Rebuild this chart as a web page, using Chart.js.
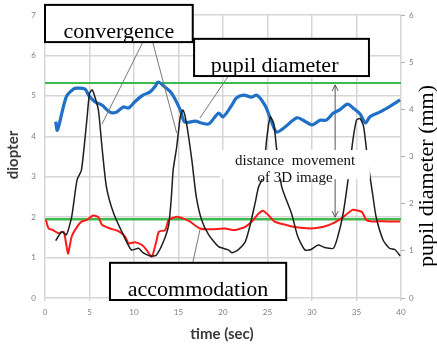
<!DOCTYPE html>
<html>
<head>
<meta charset="utf-8">
<script src="https://cdn.jsdelivr.net/npm/chart.js@4.4.0/dist/chart.umd.min.js"></script>
<style>
  html, body { margin: 0; padding: 0; background: #fff; }
  #wrap { width: 437px; height: 346px; position: relative; }
</style>
</head>
<body>
<div id="wrap"><canvas id="chart" width="437" height="346"></canvas></div>
<script>
// time axis (sec) and tick ranges
const timeRange = [0, 40];
const diopterRange = [0, 7];
const pupilRange = [0, 6];

// convergence (diopter)
const convT = [1.2, 1.9, 2.4, 3.0, 3.6, 4.1, 4.7, 5.0, 5.3, 5.6, 6.0, 6.4, 6.9, 7.7, 8.8, 9.7, 10.5, 11.0, 11.8, 12.5,
  13.3, 13.9, 14.2, 14.4, 14.8, 15.2, 15.5, 15.9, 16.5, 17.0, 17.6, 18.4, 19.5, 20.6, 21.0, 21.7, 22.5, 23.0, 23.6, 24.0,
  24.5, 24.9, 25.3, 25.7, 26.0, 26.6, 27.7, 28.4, 29.2, 29.9, 30.7, 31.4, 32.4, 32.9, 33.5, 34.0, 34.6, 35.0, 35.4, 35.8,
  36.3, 36.8, 37.2, 38.0, 38.7, 39.3, 39.9];
const convV = [1.42, 1.64, 1.56, 2.01, 2.92, 3.17, 4.40, 5.06, 5.15, 4.98, 4.65, 3.74, 2.75, 2.10, 1.56, 1.19, 1.23, 1.12, 1.04, 1.06,
  1.39, 1.81, 2.50, 3.17, 3.74, 4.48, 4.65, 4.32, 3.41, 2.50, 1.93, 1.56, 1.27, 1.19, 1.12, 1.19, 1.39, 1.76, 2.34, 2.75,
  3.00, 3.91, 4.48, 4.32, 3.74, 2.75, 2.09, 1.52, 1.19, 1.20, 1.31, 1.25, 1.23, 1.52, 2.09, 2.84, 3.91, 4.40, 4.44, 4.24,
  3.33, 2.59, 2.01, 1.43, 1.23, 1.20, 1.04];

// accommodation (diopter)
const accT = [0.1, 0.4, 0.9, 1.5, 2.1, 2.4, 2.6, 3.0, 3.6, 4.1, 4.7, 5.4, 6.0, 6.4, 7.3, 8.2, 9.0, 9.4, 10.1, 10.9,
  11.4, 12.0, 12.5, 12.8, 13.5, 13.9, 14.8, 15.5, 16.3, 17.4, 18.7, 20.2, 21.3, 22.5, 23.4, 24.0, 24.5, 25.1, 25.8, 27.0,
  27.9, 29.8, 31.3, 32.4, 33.3, 34.1, 34.6, 35.6, 36.1, 36.9, 38.0, 38.8, 39.9];
const accV = [1.93, 1.72, 1.68, 1.60, 1.64, 1.31, 1.10, 1.52, 1.76, 1.89, 1.93, 2.04, 2.00, 1.81, 1.72, 1.66, 1.52, 1.35, 1.38, 1.31,
  1.19, 1.02, 1.39, 1.64, 1.68, 1.93, 2.01, 1.97, 1.89, 1.72, 1.70, 1.72, 1.68, 1.76, 1.93, 2.09, 2.16, 2.05, 1.89, 1.81,
  1.76, 1.72, 1.76, 1.85, 1.97, 2.11, 2.18, 2.13, 1.93, 1.89, 1.90, 1.89, 1.89];

// pupil diameter (mm, right axis)
const pupilT = [1.2, 1.4, 2.4, 3.2, 3.6, 4.5, 4.9, 5.6, 6.4, 7.3, 8.0, 8.8, 9.4, 10.1, 11.0, 11.8, 12.4, 12.7, 13.5, 14.2,
  15.2, 15.7, 16.9, 17.6, 18.4, 19.5, 20.0, 21.0, 21.5, 22.3, 23.2, 23.8, 24.7, 25.3, 26.0, 26.8, 28.3, 29.0, 30.0, 30.9,
  31.6, 32.4, 33.1, 34.0, 34.6, 35.4, 36.0, 36.5, 37.6, 38.8, 39.9];
const pupilV = [3.74, 3.56, 4.27, 4.43, 4.45, 4.43, 4.30, 4.16, 4.09, 3.94, 3.94, 4.05, 4.03, 4.16, 4.30, 4.37, 4.49, 4.58, 4.47, 4.35,
  3.99, 3.73, 3.75, 3.71, 3.69, 3.92, 3.84, 4.09, 4.24, 4.30, 4.26, 4.30, 4.09, 3.82, 3.52, 3.60, 3.82, 3.77, 3.67, 3.77,
  3.77, 3.92, 3.99, 4.11, 4.03, 3.90, 3.71, 3.84, 3.94, 4.07, 4.20];

// green reference levels (diopter)
const refLevels = [5.32, 1.95];

const toPoints = (ts, vs) => ts.map((t, i) => ({ x: t, y: vs[i] }));

// Boxed labels, placed in data units (time, diopter)
const labelBoxes = [
  { text: 'convergence', t0: 0, t1: 16.6, v0: 6.33, v1: 7.25, tx: 8.3, ty: 6.43 },
  { text: 'pupil diameter', t0: 16.75, t1: 36.4, v0: 5.49, v1: 6.41, tx: 25.8, ty: 5.58 },
  { text: 'accommodation', t0: 7.3, t1: 27.1, v0: -0.05, v1: 0.87, tx: 17.2, ty: 0.04 }
];
const leaders = [
  [11.0, 6.33, 6.4, 4.30],
  [12.1, 6.33, 14.8, 4.08],
  [20.6, 5.49, 17.4, 4.45],
  [16.6, 0.87, 17.4, 1.68]
];

const annotations = {
  id: 'annotations',
  beforeDatasetsDraw(chart) {
    const { ctx, scales: { x, y } } = chart;
    // double arrow between the two reference levels
    const ax = x.getPixelForValue(32.6);
    const top = y.getPixelForValue(refLevels[0]) + 2;
    const bot = y.getPixelForValue(refLevels[1]) - 2;
    ctx.save();
    ctx.strokeStyle = '#555';
    ctx.lineWidth = 1;
    ctx.beginPath();
    ctx.moveTo(ax, top); ctx.lineTo(ax, bot);
    ctx.moveTo(ax - 3, top + 6); ctx.lineTo(ax, top); ctx.lineTo(ax + 3, top + 6);
    ctx.moveTo(ax - 3, bot - 6); ctx.lineTo(ax, bot); ctx.lineTo(ax + 3, bot - 6);
    ctx.stroke();
    ctx.restore();
  },
  afterDatasetsDraw(chart) {
    const { ctx, scales: { x, y } } = chart;
    const X = v => x.getPixelForValue(v);
    const Y = v => y.getPixelForValue(v);
    ctx.save();

    // leader lines
    ctx.strokeStyle = '#777';
    ctx.lineWidth = 1;
    leaders.forEach(l => {
      ctx.beginPath();
      ctx.moveTo(X(l[0]), Y(l[1]));
      ctx.lineTo(X(l[2]), Y(l[3]));
      ctx.stroke();
    });

    // distance movement note (white patch, no border)
    const dx0 = X(19.66), dx1 = X(36.5), dy0 = Y(3.66), dy1 = Y(2.94);
    ctx.fillStyle = '#fff';
    ctx.fillRect(dx0, dy0, dx1 - dx0, dy1 - dy0);
    ctx.fillStyle = '#111';
    ctx.font = '15px "Liberation Serif", serif';
    ctx.textAlign = 'center';
    ctx.textBaseline = 'alphabetic';
    ctx.fillText('distance  movement', X(28.1), Y(3.29));
    ctx.fillText('of 3D image', X(28.1), Y(2.87));

    // boxed labels
    labelBoxes.forEach(b => {
      const bx = X(b.t0), by = Y(b.v1), bw = X(b.t1) - bx, bh = Y(b.v0) - by;
      ctx.fillStyle = '#fff';
      ctx.fillRect(bx, by, bw, bh);
      ctx.save();
      ctx.beginPath();
      ctx.rect(bx, by, bw, bh);
      ctx.clip();
      ctx.fillStyle = '#000';
      ctx.font = '22px "Liberation Serif", serif';
      ctx.textAlign = 'center';
      ctx.fillText(b.text, X(b.tx), Y(b.ty));
      ctx.restore();
      ctx.strokeStyle = '#000';
      ctx.lineWidth = 2;
      ctx.strokeRect(bx, by, bw, bh);
    });
    ctx.restore();
  },
  afterDraw(chart) {
    const { ctx } = chart;
    ctx.save();
    ctx.fillStyle = '#3a3a3a';
    ctx.textAlign = 'center';
    ctx.textBaseline = 'middle';
    ctx.font = 'bold 15px Lato, sans-serif';
    ctx.fillText('time (sec)', 222, 334);
    ctx.save();
    ctx.translate(13, 155);
    ctx.rotate(-Math.PI / 2);
    ctx.fillText('diopter', 0, 0);
    ctx.restore();
    ctx.fillStyle = '#000';
    ctx.font = '22px "Liberation Serif", serif';
    ctx.translate(427, 176);
    ctx.rotate(-Math.PI / 2);
    ctx.fillText('pupil diameter (mm)', 0, 0);
    ctx.restore();
  }
};

const tickFont = { family: 'Lato, sans-serif', size: 8 };
const gridColor = '#d6d6d6';

new Chart(document.getElementById('chart'), {
  type: 'line',
  data: {
    datasets: [
      {
        label: 'convergence', data: toPoints(convT, convV), yAxisID: 'y',
        borderColor: '#1e1e1e', borderWidth: 1.5, tension: 0.2
      },
      {
        label: 'accommodation', data: toPoints(accT, accV), yAxisID: 'y',
        borderColor: '#ff1a1a', borderWidth: 2, tension: 0.2
      },
      {
        label: 'pupil diameter', data: toPoints(pupilT, pupilV), yAxisID: 'y2',
        borderColor: '#1f70c6', borderWidth: 3.2, tension: 0.3
      },
      {
        label: 'upper level', data: toPoints(timeRange, [refLevels[0], refLevels[0]]), yAxisID: 'y',
        borderColor: '#3dba4e', borderWidth: 2
      },
      {
        label: 'lower level', data: toPoints(timeRange, [refLevels[1], refLevels[1]]), yAxisID: 'y',
        borderColor: '#3dba4e', borderWidth: 2.5
      }
    ]
  },
  options: {
    responsive: false,
    animation: false,
    layout: { padding: { top: 15, left: 0, right: 0, bottom: 0 } },
    elements: { point: { radius: 0 } },
    plugins: { legend: { display: false }, tooltip: { enabled: false } },
    scales: {
      x: {
        type: 'linear', min: timeRange[0], max: timeRange[1],
        afterFit: s => { s.height = 48; },
        border: { display: false },
        grid: { color: gridColor, lineWidth: 1.5, tickLength: 3 },
        ticks: { stepSize: 5, padding: 7, color: '#808080', font: tickFont, maxRotation: 0 }
      },
      y: {
        position: 'left', min: diopterRange[0], max: diopterRange[1],
        afterFit: s => { s.width = 45; },
        border: { display: false },
        grid: { color: gridColor, lineWidth: 1.5, drawTicks: false },
        ticks: { stepSize: 1, padding: 9, color: '#808080', font: tickFont }
      },
      y2: {
        position: 'right', min: pupilRange[0], max: pupilRange[1],
        afterFit: s => { s.width = 36; },
        border: { display: false },
        grid: { drawOnChartArea: false, color: '#b0b0b0', tickLength: 4 },
        ticks: { stepSize: 1, padding: 4, color: '#808080', font: tickFont }
      }
    }
  },
  plugins: [annotations]
});
</script>
</body>
</html>
